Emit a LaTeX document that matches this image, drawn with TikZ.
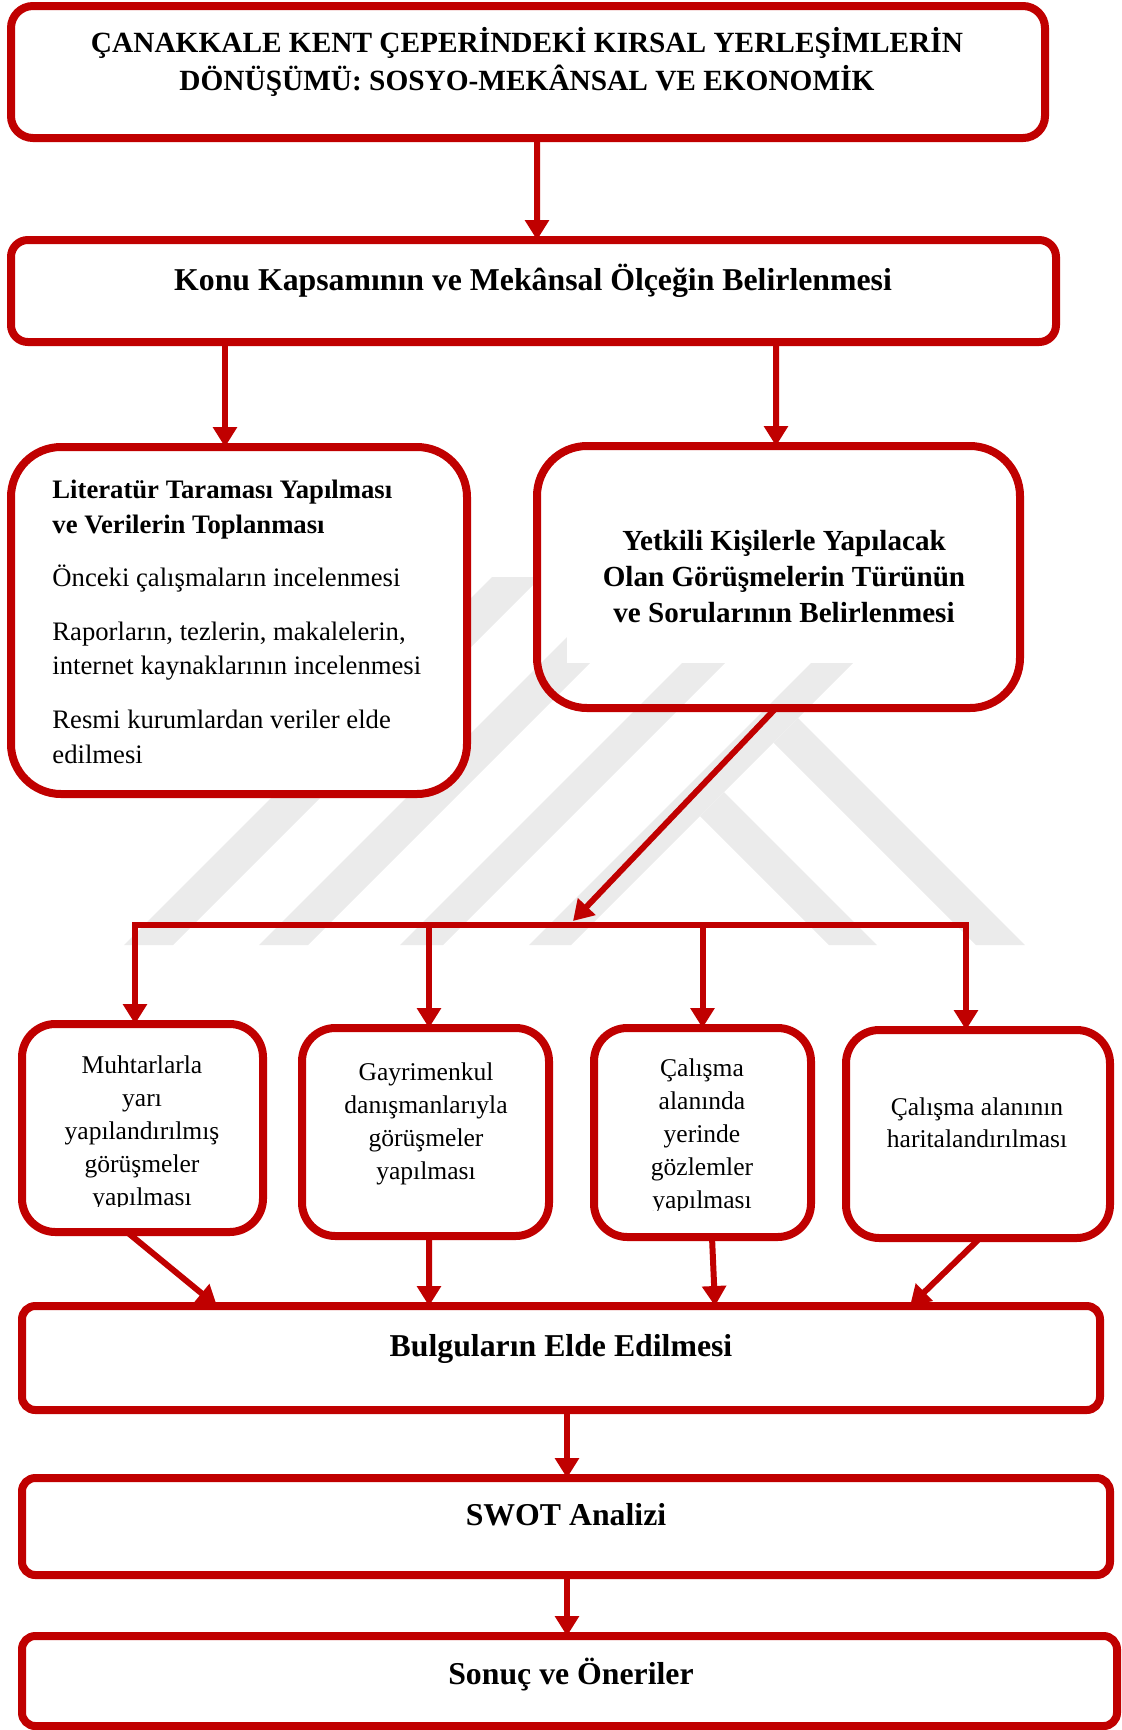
\documentclass[tikz,border=0pt]{standalone}
\usepackage{fontspec}
\setmainfont{Liberation Serif}
\usetikzlibrary{arrows.meta,calc}
\definecolor{dred}{HTML}{C00000}
\definecolor{wm}{HTML}{EBEBEB}
\begin{document}
\begin{tikzpicture}[x=0.45pt,y=-0.45pt,
  box/.style={draw=dred, line width=3.6pt, fill=white, inner sep=0pt, outer sep=0pt},
  sz/.style 2 args={minimum width=#1*0.45pt, minimum height=#2*0.45pt},
  conn/.style={draw=dred, line width=2.7pt},
  arr/.style={conn, -{Triangle[width=10.5pt,length=9pt]}},
  txt/.style={inner sep=0pt, align=center, anchor=base},
  big/.style={font=\fontsize{14.3pt}{17pt}\selectfont\bfseries},
  small/.style={font=\fontsize{11.5pt}{14.85pt}\selectfont}]
\useasboundingbox (0,0) rectangle (1122,1730);
% watermark
\fill[wm] (124,945) -- (173,945) -- (541,577) -- (492,577) -- cycle;
\fill[wm] (259,945) -- (308,945) -- (676,577) -- (627,577) -- cycle;
\fill[wm] (400,945) -- (443,945) -- (811,577) -- (768,577) -- cycle;
\fill[wm] (529,945) -- (571,945) -- (939,577) -- (897,577) -- cycle;
\fill[wm] (773.5,742.5) -- (798,718) -- (1025,945) -- (976,945) -- cycle;
\fill[wm] (700,816) -- (724,792) -- (877,945) -- (829,945) -- cycle;
\fill[white] (567,455) rectangle (1005,663);
% boxes
\node[box, sz={1034}{132}, rounded corners=9.9pt] (title) at (528,72) {};
\node[box, sz={1045}{102}, rounded corners=7.6pt] (konu) at (533.5,291) {};
\node[box, sz={456}{347}, rounded corners=22.5pt] (lit) at (239,620.5) {};
\node[box, fill=none, sz={483}{262}, rounded corners=22.5pt] (yet) at (778.5,577) {};
\node[box, sz={241}{208}, rounded corners=15pt] (m1) at (142.5,1128) {};
\node[box, sz={247}{208}, rounded corners=15pt] (m2) at (425.5,1132) {};
\node[box, sz={217}{209}, rounded corners=15pt] (m3) at (702.5,1132.5) {};
\node[box, sz={264}{208}, rounded corners=15pt] (m4) at (978,1134) {};
\node[box, sz={1078}{104}, rounded corners=6pt] (bul) at (561,1358) {};
\node[box, sz={1088}{97}, rounded corners=6pt] (swot) at (566,1526.5) {};
\node[box, sz={1095}{90}, rounded corners=6pt] (son) at (569.5,1681) {};
% connectors
\coordinate (barL) at (135,925);
\coordinate (barR) at (966,925);
\coordinate (barT) at (573,921);
\draw[arr] ($(title.south)+(9,0)$) -- ($(konu.north)+(3.5,0)$);
\draw[arr] ($(konu.south)+(-308.5,0)$) -- ($(lit.north)+(-14,0)$);
\draw[arr] ($(konu.south)+(242.5,0)$) -- ($(yet.north)+(-2.5,0)$);
\draw[arr] ($(yet.south)+(-2.5,0)$) -- (barT);
\draw[arr, line join=miter] (barR) -- (barL) -- (barL |- m1.north);
\draw[arr, line join=miter] (barL) -- (barR) -- (barR |- m4.north);
\draw[arr] ($(barL -| m2.north)+(3.5,0)$) -- ($(m2.north)+(3.5,0)$);
\draw[arr] (barL -| m3.north) -- (m3.north);
\draw[arr] ($(m1.south)+(-15.5,0)$) -- ($(bul.north)+(-344,0)$);
\draw[arr] ($(m2.south)+(3.5,0)$) -- ($(bul.north)+(-132,0)$);
\draw[arr] ($(m3.south)+(9.5,0)$) -- ($(bul.north)+(154,0)$);
\draw[arr] ($(m4.south)+(2,0)$) -- ($(bul.north)+(349,0)$);
\draw[arr] ($(bul.south)+(6,0)$) -- ($(swot.north)+(1,0)$);
\draw[arr] ($(swot.south)+(1,0)$) -- ($(son.north)+(-2.5,0)$);
% texts (anchor base = baseline of the last line)
\node[txt, font=\fontsize{13.2pt}{16.9pt}\selectfont\bfseries] (titletxt) at (527,90)
  {ÇANAKKALE KENT ÇEPERİNDEKİ KIRSAL YERLEŞİMLERİN\\DÖNÜŞÜMÜ: SOSYO-MEKÂNSAL VE EKONOMİK};
\node[txt, big] (konutxt) at (533,290) {Konu Kapsamının ve Mekânsal Ölçeğin Belirlenmesi};
\node[inner sep=0pt, anchor=base west, align=left, font=\fontsize{12pt}{15.5pt}\selectfont] (littxt) at (52,763)
  {\textbf{Literatür Taraması Yapılması}\\\textbf{ve Verilerin Toplanması}\\[8.4pt]Önceki çalışmaların incelenmesi\\[8.8pt]Raporların, tezlerin, makalelerin,\\internet kaynaklarının incelenmesi\\[8.8pt]Resmi kurumlardan veriler elde\\edilmesi};
\node[txt, font=\fontsize{13.1pt}{16.2pt}\selectfont\bfseries] (yettxt) at (784,622)
  {Yetkili Kişilerle Yapılacak\\Olan Görüşmelerin Türünün\\ve Sorularının Belirlenmesi};
\begin{scope}
  \clip (22,1024) rectangle (263,1206);
  \node[txt, small] (m1txt) at (142,1205) {Muhtarlarla\\yarı\\yapılandırılmış\\görüşmeler\\yapılması};
\end{scope}
\node[txt, small] (m2txt) at (426,1179) {Gayrimenkul\\danışmanlarıyla\\görüşmeler\\yapılması};
\begin{scope}
  \clip (594,1028) rectangle (811,1210);
  \node[txt, small] (m3txt) at (702,1208) {Çalışma\\alanında\\yerinde\\gözlemler\\yapılması};
\end{scope}
\node[txt, font=\fontsize{11.5pt}{14.4pt}\selectfont] (m4txt) at (977,1147) {Çalışma alanının\\haritalandırılması};
\node[txt, big] (bultxt) at (561,1356) {Bulguların Elde Edilmesi};
\node[txt, big] (swottxt) at (566,1525) {SWOT Analizi};
\node[txt, big] (sontxt) at (571,1684) {Sonuç ve Öneriler};
\end{tikzpicture}
\end{document}
